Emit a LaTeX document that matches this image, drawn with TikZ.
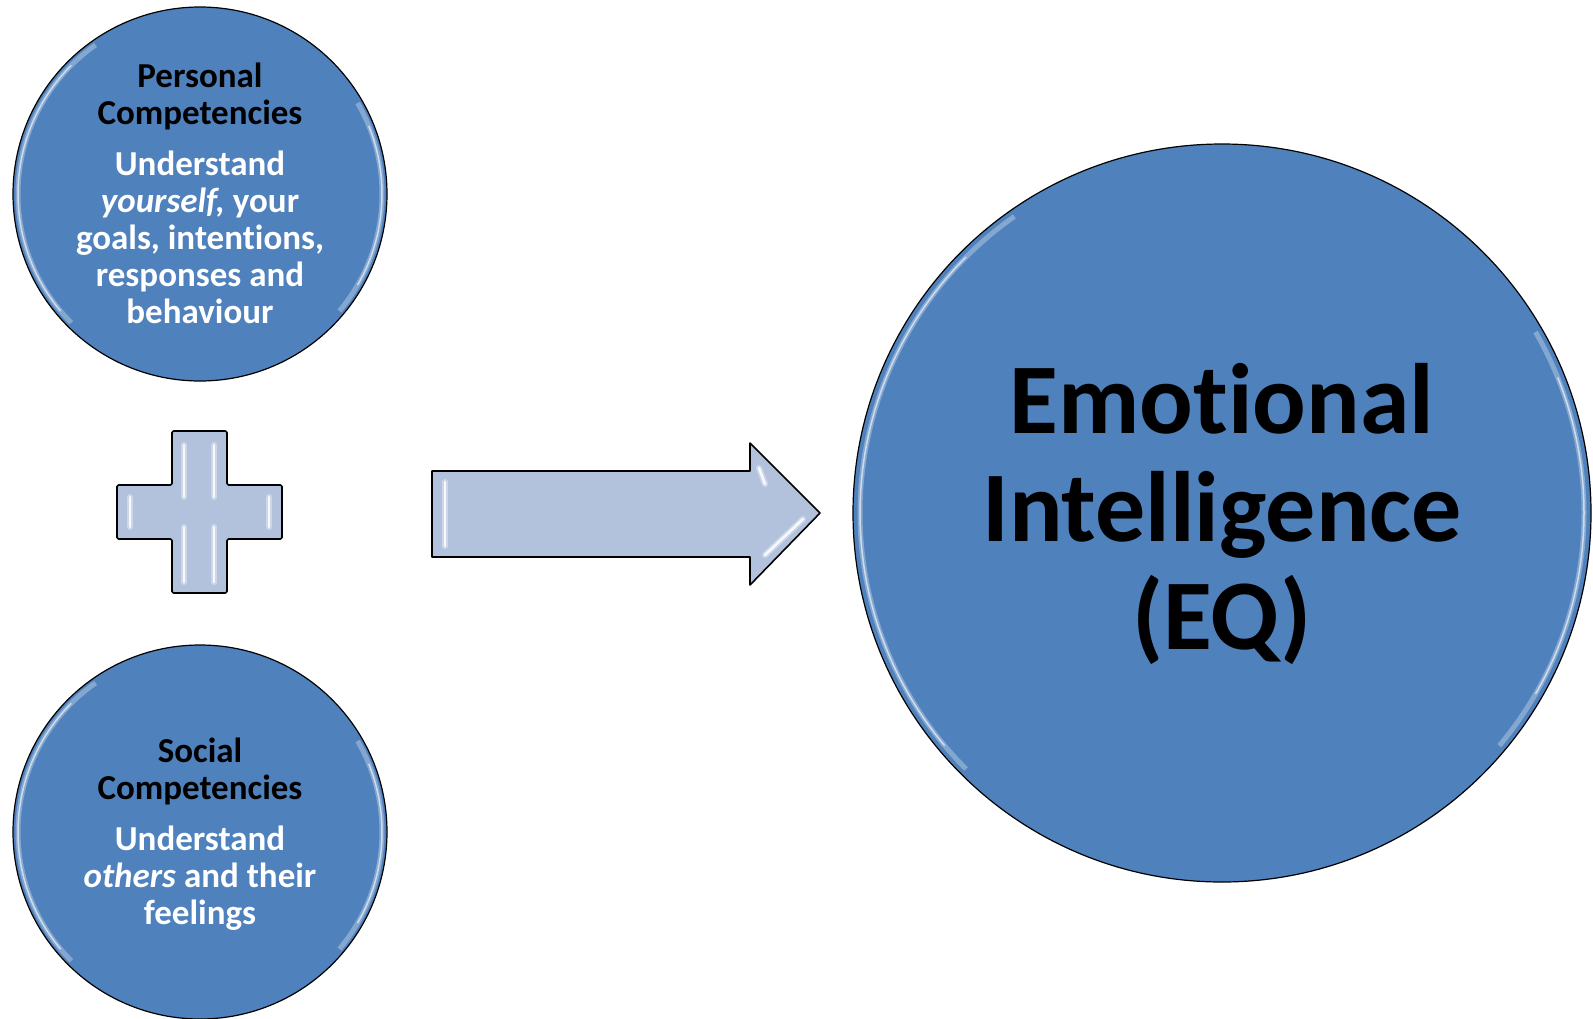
\documentclass[tikz,border=0pt]{standalone}
\usepackage{fontspec}
\setmainfont{Carlito}[Ligatures={NoCommon}]
\definecolor{eqblue}{HTML}{4F81BD}
\definecolor{shapeblue}{HTML}{B3C2DC}
\newcommand{\wl}[1]{\textcolor{white}{#1}}
\begin{document}
\begin{tikzpicture}[x=1pt,y=-1pt,
  bubble/.style={circle, draw=black, line width=1.2pt, fill=eqblue, inner sep=0pt,
    minimum size=#1, align=center, font=\bfseries},
  smalltxt/.style={font=\bfseries\fontsize{35}{37}\selectfont, align=center},
  bevelshape/.style={draw=black, line width=1.6pt, fill=shapeblue, line join=round},
  glintwide/.style={white, line width=6pt, opacity=0.35, line cap=round},
  glint/.style={white, line width=2.5pt, opacity=0.85, line cap=round},
  rim/.style={white, opacity=0.3, line width=5pt},
  rimthin/.style={white, opacity=0.6, line width=1.5pt}]
\useasboundingbox (0,0) rectangle (1593,1018);

% circles
\node[bubble=374pt] (pers) at (200,194) {};
\node[bubble=374pt] (soc) at (200,832) {};
\node[bubble=738pt] (eq) at (1222,513) {};

% rim highlights
\foreach \c/\r in {pers/182, soc/182, eq/362}{
  \draw[rim] (\c.center) ++(135:\r) arc[start angle=135, end angle=235, radius=\r];
  \draw[rimthin] (\c.center) ++(140:\r) arc[start angle=140, end angle=225, radius=\r];
  \draw[rim] (\c.center) ++(-30:\r) arc[start angle=-30, end angle=40, radius=\r];
  \draw[rimthin] (\c.center) ++(-22:\r) arc[start angle=-22, end angle=30, radius=\r];
}

% texts
\node[smalltxt] (perst) at ([yshift=1pt]pers.center) {Personal\\Competencies\\[14pt]
  \wl{Understand}\\ \wl{\textit{yourself,} your}\\ \wl{goals, intentions,}\\ \wl{responses and}\\ \wl{behaviour}};
\node[smalltxt] (soct) at ([yshift=-2pt]soc.center) {Social\\Competencies\\[14pt]
  \wl{Understand}\\ \wl{\textit{others} and their}\\ \wl{feelings}};
\node[font=\bfseries\fontsize{100}{108}\selectfont, align=center] (eqt) at ([yshift=-1pt]eq.center)
  {Emotional\\Intelligence\\(EQ)};

% plus sign
\draw[bevelshape, rounded corners=1.5pt] (172,431) -- (227,431) -- (227,485) -- (282,485) -- (282,539)
  -- (227,539) -- (227,593) -- (172,593) -- (172,539) -- (117,539) -- (117,485) -- (172,485) -- cycle;
\foreach \a/\b in {{(184,445)}/{(184,497)}, {(214,445)}/{(214,497)}, {(184,527)}/{(184,582)},
  {(214,527)}/{(214,582)}, {(130,497)}/{(130,527)}, {(269,497)}/{(269,527)}}{
  \draw[glintwide] \a -- \b;
  \draw[glint] \a -- \b;
}

% arrow
\draw[bevelshape] (432,471) -- (750,471) -- (750,443) -- (820,513) -- (750,585) -- (750,557)
  -- (432,557) -- cycle;
\foreach \a/\b in {{(445,482)}/{(445,546)}, {(759,468)}/{(765,484)}, {(765,555)}/{(803,519)}}{
  \draw[glintwide] \a -- \b;
  \draw[glint] \a -- \b;
}
\end{tikzpicture}
\end{document}
